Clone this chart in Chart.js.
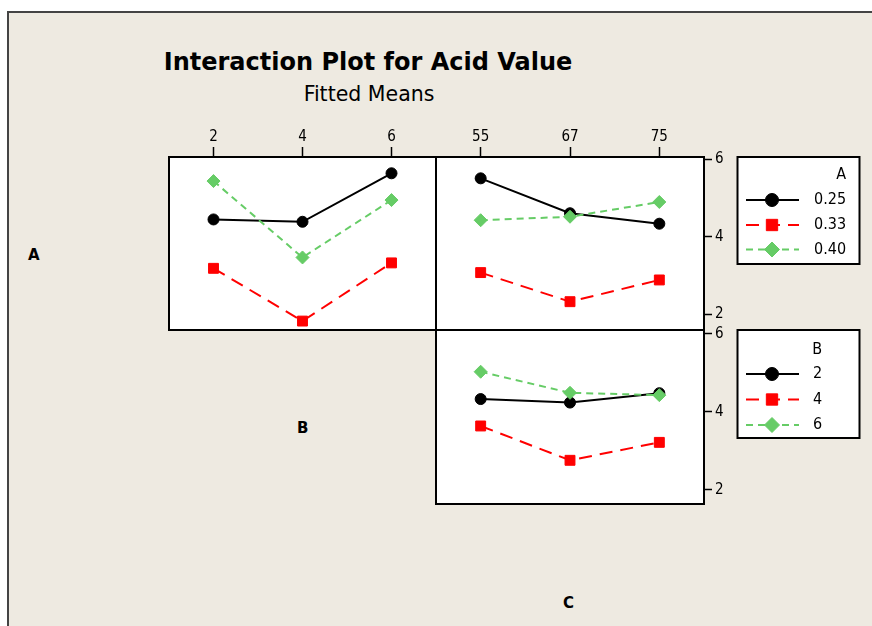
<!DOCTYPE html>
<html>
<head>
<meta charset="utf-8">
<title>Interaction Plot for Acid Value</title>
<script src="https://cdn.jsdelivr.net/npm/chart.js@4.4.1/dist/chart.umd.min.js"></script>
<style>
  html, body { margin: 0; padding: 0; background: #fff; width: 872px; height: 626px; overflow: hidden; }
  #frame { position: absolute; left: 7px; top: 11px; width: 900px; height: 700px; background: #eeeae1;
           border-left: 2px solid #444; border-top: 2px solid #444; }
  canvas { position: absolute; left: 0; top: 0; }
  .txt { position: absolute; color: #000; line-height: 1; white-space: nowrap;
         font-family: "DejaVu Sans", sans-serif; }
  #title { left: 100px; width: 536px; top: 50px; text-align: center; font-size: 24px; font-weight: bold; }
  #subtitle { left: 100px; width: 538px; top: 84px; text-align: center; font-size: 20.5px; }
  .fac { font-size: 15px; font-weight: bold; }
</style>
</head>
<body>
<div id="frame"></div>
<div class="txt" id="title">Interaction Plot for Acid Value</div>
<div class="txt" id="subtitle">Fitted Means</div>
<div class="txt fac" style="left:28px; top:248px;">A</div>
<div class="txt fac" style="left:297px; top:421px;">B</div>
<div class="txt fac" style="left:563px; top:596px;">C</div>
<canvas id="abChart" width="872" height="626"></canvas>
<canvas id="acChart" width="872" height="626"></canvas>
<canvas id="bcChart" width="872" height="626"></canvas>
<script>
// factor levels
const levelsA = ['0.25', '0.33', '0.40'];
const levelsB = ['2', '4', '6'];
const levelsC = ['55', '67', '75'];
const yTicks = [2, 4, 6];

// fitted means, A x B (x axis = B)
const abA025 = [4.45, 4.39, 5.64];
const abA033 = [3.19, 1.83, 3.33];
const abA040 = [5.44, 3.47, 4.95];

// fitted means, A x C (x axis = C)
const acA025 = [5.51, 4.61, 4.34];
const acA033 = [3.08, 2.33, 2.89];
const acA040 = [4.43, 4.52, 4.90];

// fitted means, B x C (x axis = C)
const bcB2 = [4.33, 4.24, 4.48];
const bcB4 = [3.64, 2.76, 3.22];
const bcB6 = [5.03, 4.49, 4.43];

const fontFamily = '"DejaVu Sans Condensed", "DejaVu Sans", sans-serif';
const tickFont = { family: fontFamily, size: 15 };

// black solid / red long dash / green short dash, like Minitab
const seriesStyle = [
    { color: '#000000', dash: [], point: 'circle', radius: 5.5, order: 3 },
    { color: '#ff0000', dash: [13, 8], point: 'rect', radius: 7, order: 2 },
    { color: '#66cc66', dash: [7, 5], point: 'rectRot', radius: 6.5, order: 1 }
];

function makeDatasets(series, names) {
    return series.map((values, i) => {
        const s = seriesStyle[i];
        return {
            label: names[i],
            data: values,
            borderColor: s.color,
            backgroundColor: s.color,
            borderWidth: 2,
            borderDash: s.dash,
            pointStyle: s.point,
            pointRadius: s.radius,
            pointBorderWidth: 1,
            pointBackgroundColor: s.color,
            pointBorderColor: s.color,
            order: s.order,
            fill: false,
            tension: 0
        };
    });
}

function drawLegend(chart, lg) {
    const ctx = chart.ctx;
    const datasets = chart.data.datasets;
    ctx.save();
    ctx.fillStyle = '#fff';
    ctx.fillRect(lg.left, lg.top, lg.right - lg.left, lg.bottom - lg.top);
    ctx.strokeStyle = '#000';
    ctx.lineWidth = 2;
    ctx.strokeRect(lg.left, lg.top, lg.right - lg.left, lg.bottom - lg.top);

    ctx.font = '16px ' + fontFamily;
    ctx.textBaseline = 'middle';
    const textRight = lg.textX + Math.max(...datasets.map(d => ctx.measureText(d.label).width));
    ctx.fillStyle = '#000';
    ctx.textAlign = 'right';
    ctx.fillText(lg.title, textRight, lg.titleY);

    datasets.forEach((ds, i) => {
        const y = lg.rows[i];
        ctx.strokeStyle = ds.borderColor;
        ctx.fillStyle = ds.borderColor;
        ctx.lineWidth = 2;
        ctx.setLineDash(ds.borderDash);
        ctx.beginPath();
        ctx.moveTo(lg.lineX0, y);
        ctx.lineTo(lg.lineX1, y);
        ctx.stroke();
        ctx.setLineDash([]);
        ctx.lineWidth = 1;
        Chart.helpers.drawPoint(ctx, { pointStyle: ds.pointStyle, radius: ds.pointRadius + 1, borderWidth: 1, rotation: 0 }, lg.markX, y);
        ctx.fillStyle = '#000';
        ctx.textAlign = 'left';
        ctx.fillText(ds.label, lg.textX, y);
    });
    ctx.restore();
}

const panelFrame = {
    id: 'panelFrame',
    beforeDraw(chart) {
        const a = chart.chartArea;
        const ctx = chart.ctx;
        ctx.save();
        ctx.fillStyle = '#fff';
        ctx.fillRect(a.left, a.top, a.right - a.left, a.bottom - a.top);
        ctx.restore();
    },
    afterDraw(chart, args, opts) {
        const a = chart.chartArea;
        const ctx = chart.ctx;
        ctx.save();
        ctx.strokeStyle = '#000';
        ctx.lineWidth = 2;
        ctx.strokeRect(a.left, a.top, a.right - a.left, a.bottom - a.top);
        ctx.restore();
        if (opts.legend) drawLegend(chart, opts.legend);
    }
};

function xAxis(show) {
    return {
        type: 'category',
        position: 'top',
        display: show,
        offset: true,
        grid: { offset: false, drawOnChartArea: false, tickLength: 10, tickColor: '#000', tickWidth: 1.5 },
        border: { display: false },
        ticks: { color: '#000', font: tickFont, padding: 1, maxRotation: 0 },
        afterFit: s => { s.height = show ? 30 : 0; }
    };
}

function yAxis(show, yMin, yMax) {
    return {
        type: 'linear',
        position: 'right',
        display: show,
        min: yMin,
        max: yMax,
        afterBuildTicks: s => { s.ticks = yTicks.map(v => ({ value: v })); },
        grid: { drawOnChartArea: false, tickLength: 8, tickColor: '#000', tickWidth: 1.5 },
        border: { display: false },
        ticks: { color: '#000', font: tickFont, padding: 3 },
        afterFit: s => { s.width = show ? 30 : 0; }
    };
}

function makePanel(id, labels, datasets, showX, showY, yRange, padding, legend) {
    return new Chart(document.getElementById(id), {
        type: 'line',
        data: { labels: labels, datasets: datasets },
        options: {
            responsive: false,
            animation: false,
            events: [],
            layout: { padding: padding },
            scales: { x: xAxis(showX), y: yAxis(showY, yRange[0], yRange[1]) },
            plugins: {
                legend: { display: false },
                tooltip: { enabled: false },
                panelFrame: { legend: legend }
            }
        },
        plugins: [panelFrame]
    });
}

// A x B, top left
makePanel('abChart', levelsB, makeDatasets([abA025, abA033, abA040], levelsA),
    true, false, [1.6, 6.06], { left: 169, top: 127, right: 436, bottom: 296 }, null);

// A x C, top right, with legend for A
makePanel('acChart', levelsC, makeDatasets([acA025, acA033, acA040], levelsA),
    true, true, [1.6, 6.06], { left: 436, top: 127, right: 138, bottom: 296 },
    { title: 'A', left: 737.5, top: 157, right: 859.5, bottom: 264, titleY: 175,
      rows: [200, 225, 249.5], lineX0: 746, lineX1: 799, markX: 772, textX: 814 });

// B x C, bottom right, with legend for B
makePanel('bcChart', levelsC, makeDatasets([bcB2, bcB4, bcB6], levelsB),
    false, true, [1.64, 6.1], { left: 436, top: 330, right: 138, bottom: 122 },
    { title: 'B', left: 737.5, top: 330, right: 859.5, bottom: 438, titleY: 350,
      rows: [374, 399.5, 425], lineX0: 746, lineX1: 799, markX: 772, textX: 813 });
</script>
</body>
</html>
